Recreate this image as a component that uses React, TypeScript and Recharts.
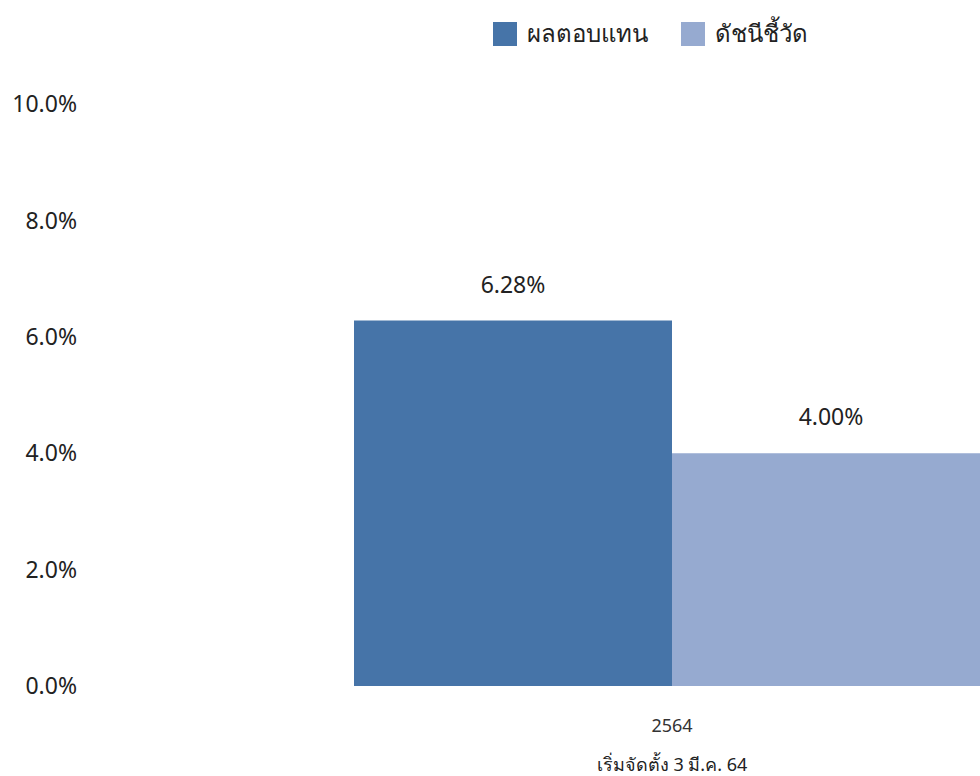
import { BarChart, Bar, XAxis, YAxis, LabelList } from 'recharts'

const categories = ['2564']
const subLabels = ['เริ่มจัดตั้ง 3 มี.ค. 64']
const fundReturn = [6.28]
const benchmark = [4.0]
const yTicks = [0, 2, 4, 6, 8, 10]

const FONT = '"Noto Sans", "DejaVu Sans", sans-serif'
const BLUE = '#4674a8'
const LIGHT = '#96aad0'

const data = categories.map((c, i) => ({
  year: c,
  fund: fundReturn[i],
  bench: benchmark[i],
}))

const YearTick = ({ x, y, payload, index }: any) => (
  <g transform={`translate(${x},${y})`}>
    <text x={0} y={38} textAnchor="middle" fill="#333" fontSize={18} fontFamily={FONT}>
      {payload.value}
    </text>
    <text x={0} y={77} textAnchor="middle" fill="#222" fontSize={18} fontFamily={FONT}>
      {subLabels[index] ?? ''}
    </text>
  </g>
)

const pct = (v: any) => `${Number(v).toFixed(2)}%`

export default function App() {
  return (
    <div style={{ position: 'absolute', left: 0, top: 0, width: 980, height: 776, overflow: 'hidden', background: '#fff' }}>
      <div
        style={{
          position: 'absolute', top: 14, left: 493, zIndex: 2,
          display: 'flex', alignItems: 'center', fontFamily: FONT, fontSize: 24, color: '#222', whiteSpace: 'nowrap',
        }}
      >
        <span style={{ width: 24, height: 24, background: BLUE, display: 'inline-block', marginRight: 10 }} />
        <span style={{ marginRight: 33 }}>ผลตอบแทน</span>
        <span style={{ width: 24, height: 24, background: LIGHT, display: 'inline-block', marginRight: 10 }} />
        <span>ดัชนีชี้วัด</span>
      </div>
      <BarChart
        width={1264}
        height={776}
        data={data}
        margin={{ top: 104, right: 0, bottom: 0, left: 0 }}
        barGap={0}
      >
        <XAxis
          dataKey="year"
          axisLine={false}
          tickLine={false}
          height={90}
          tick={<YearTick />}
          interval={0}
        />
        <YAxis
          domain={[0, 10]}
          ticks={yTicks}
          width={80}
          axisLine={false}
          tickLine={false}
          tickSize={0}
          tickMargin={3}
          tickFormatter={(v: number) => `${v.toFixed(1)}%`}
          tick={{ fill: '#222', fontSize: 23, fontFamily: FONT }}
        />
        <Bar dataKey="fund" fill={BLUE} barSize={318} isAnimationActive={false}>
          <LabelList dataKey="fund" position="top" offset={28} formatter={pct}
            style={{ fill: '#222', fontSize: 23, fontFamily: FONT }} />
        </Bar>
        <Bar dataKey="bench" fill={LIGHT} barSize={318} isAnimationActive={false}>
          <LabelList dataKey="bench" position="top" offset={28} formatter={pct}
            style={{ fill: '#222', fontSize: 23, fontFamily: FONT }} />
        </Bar>
      </BarChart>
    </div>
  )
}
